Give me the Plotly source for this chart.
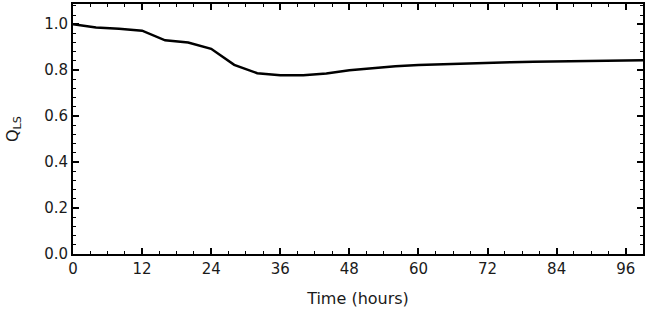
import plotly.graph_objects as go

time_hours = [0, 4, 8, 12, 16, 20, 24, 28, 32, 36, 40, 44, 48, 52, 56, 60, 64, 68, 72, 76, 80, 84, 88, 92, 96, 100]
q_ls = [1.000, 0.986, 0.980, 0.972, 0.930, 0.920, 0.893, 0.823, 0.787, 0.778, 0.778, 0.786, 0.800, 0.810,
        0.817, 0.822, 0.826, 0.829, 0.832, 0.835, 0.837, 0.839, 0.840, 0.841, 0.842, 0.844]
x_tick_step = 12
x_minor_step = 3
y_tick_step = 0.2
y_minor_step = 0.04

fig = go.Figure()
fig.add_trace(go.Scatter(x=time_hours, y=q_ls, mode="lines",
                         line=dict(color="black", width=2.5), showlegend=False))

tick_font = dict(family="DejaVu Sans, sans-serif", size=15, color="#1a1a1a")
title_font = dict(family="DejaVu Sans, sans-serif", size=16, color="#1a1a1a")
common = dict(ticks="inside", ticklen=6, tickwidth=1.5, tickcolor="black",
              showline=True, linecolor="black", linewidth=2, mirror="allticks",
              showgrid=False, zeroline=False, automargin=False, tickfont=tick_font)
fig.update_layout(
    width=650, height=314,
    margin=dict(l=73, r=7, t=4, b=60),
    paper_bgcolor="white", plot_bgcolor="white",
    font=tick_font,
    xaxis=dict(range=[0, 99], tickmode="linear", tick0=0, dtick=x_tick_step,
               minor=dict(tickmode="linear", tick0=0, dtick=x_minor_step, ticks="inside", ticklen=3,
                          tickwidth=1.2, tickcolor="black", showgrid=False),
               title=dict(text="Time (hours)", font=title_font, standoff=16),
               **common),
    yaxis=dict(range=[0, 1.088], tickmode="linear", tick0=0, dtick=y_tick_step, tickformat=".1f",
               minor=dict(tickmode="linear", tick0=0, dtick=y_minor_step, ticks="inside", ticklen=3,
                          tickwidth=1.2, tickcolor="black", showgrid=False),
               title=dict(text="Q<sub>LS</sub>", font=title_font, standoff=22),
               **common),
)
fig.write_html("out.html", config={"displayModeBar": False},
               post_script="document.body.style.margin='0';document.body.style.padding='0';")
